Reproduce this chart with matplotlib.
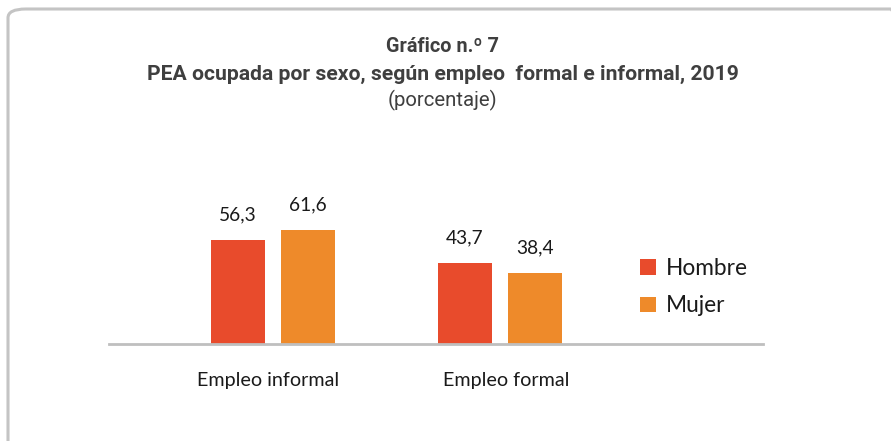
import numpy as np
import matplotlib
matplotlib.use("Agg")
import matplotlib.pyplot as plt
from matplotlib.patches import FancyBboxPatch
from matplotlib.transforms import ScaledTranslation

categories = ["Empleo informal", "Empleo formal"]
series_names = ["Hombre", "Mujer"]
hombre = [56.3, 43.7]
mujer = [61.6, 38.4]
colors = {"Hombre": "#E84B2C", "Mujer": "#EE8A2A"}

W, H = 891, 441


def fx(px):
    return px / W


def fy(py):
    return 1 - py / H


fig = plt.figure(figsize=(8.91, 4.41), dpi=100)

# rounded frame, cut off at right and bottom like the source
frame = FancyBboxPatch((fx(8), fy(460)), fx(900), fy(9) - fy(460),
                       boxstyle="round,pad=0,rounding_size=0.02",
                       transform=fig.transFigure, fill=False,
                       edgecolor="#C4C4C4", lw=2.2, clip_on=False)
fig.patches.append(frame)

# titles
title_kw = dict(ha="center", va="center", color="#3F3F3F", family="Roboto")
fig.text(fx(443), fy(46), "Gráfico n.º 7", fontsize=14.3, weight="bold", **title_kw)
fig.text(fx(443), fy(74), "PEA ocupada por sexo, según empleo  formal e informal, 2019",
         fontsize=15.2, weight="bold", **title_kw)
fig.text(fx(442), fy(100), "(porcentaje)", fontsize=14.7, **title_kw)

# plot area
ax_left, ax_right, ax_base, ax_top = 109, 763, 344, 190
ax = fig.add_axes([fx(ax_left), fy(ax_base), fx(ax_right - ax_left), fy(ax_top) - fy(ax_base)])
px_per_unit = 1.85
ax.set_ylim(0, (ax_base - ax_top) / px_per_unit)
cat_gap = 227.0
ax.set_xlim(-(273 - ax_left) / cat_gap, 1 + (ax_right - 500) / cat_gap)

x = np.arange(len(categories))
width = 0.24
offset = 0.155
b1 = ax.bar(x - offset, hombre, width, color=colors["Hombre"], label="Hombre")
b2 = ax.bar(x + offset, mujer, width, color=colors["Mujer"], label="Mujer")

for bars, vals in [(b1, hombre), (b2, mujer)]:
    for bar, v in zip(bars, vals):
        ax.annotate(f"{v:.1f}".replace(".", ","),
                    (bar.get_x() + bar.get_width() / 2, v),
                    xytext=(0, 12), textcoords="offset points",
                    ha="center", va="bottom", fontsize=13.8, family="Lato",
                    color="#1A1A1A")

for s in ["top", "right", "left"]:
    ax.spines[s].set_visible(False)
ax.spines["bottom"].set_color("#BFBFBF")
ax.spines["bottom"].set_linewidth(2)
ax.set_yticks([])
ax.set_xticks(x)
ax.set_xticklabels(categories, fontsize=14.2, family="Lato", color="#1A1A1A")
ax.tick_params(axis="x", length=0, pad=20)
# the source labels sit a little off the group centres
for lab, dx in zip(ax.get_xticklabels(), [-5, 6]):
    lab.set_transform(lab.get_transform() + ScaledTranslation(dx / 100, 0, fig.dpi_scale_trans))

leg = ax.legend(loc="center left", bbox_to_anchor=(fx(631 - ax_left) / fx(ax_right - ax_left), 0.37),
                frameon=False, prop={"family": "Lato", "size": 16.3},
                handlelength=0.7, handleheight=0.7, handletextpad=0.45,
                labelspacing=0.74, borderaxespad=0)
for t in leg.get_texts():
    t.set_color("#1A1A1A")

fig.savefig("out.png", dpi=100)
